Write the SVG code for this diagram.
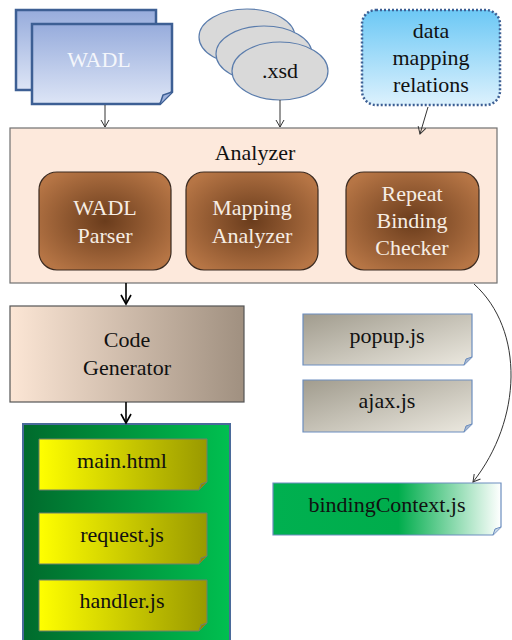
<svg xmlns="http://www.w3.org/2000/svg" width="512" height="640" viewBox="0 0 512 640">
<style>
text{font-family:"Liberation Serif","Tinos","Times New Roman","Times","DejaVu Serif","Noto Serif",serif;font-size:22px;text-anchor:middle}
.w{fill:#f6ede4}
.k{fill:#111}
.conn{fill:none;stroke:#333;stroke-width:1}
.connb{fill:none;stroke:#000;stroke-width:1.6}
</style>
<defs>
<linearGradient id="gWadl" x1="0" y1="0" x2="0" y2="1"><stop offset="0" stop-color="#97acdc"/><stop offset="1" stop-color="#dde5f6"/></linearGradient>
<linearGradient id="gData" x1="0" y1="0" x2="0" y2="1"><stop offset="0" stop-color="#6cc8f5"/><stop offset="1" stop-color="#dcf1fd"/></linearGradient>
<radialGradient id="gBrown" cx="0.5" cy="0.5" r="0.6"><stop offset="0" stop-color="#6a3c1c"/><stop offset="1" stop-color="#b67545"/></radialGradient>
<linearGradient id="gCode" x1="0" y1="0" x2="1" y2="0"><stop offset="0" stop-color="#fce6d5"/><stop offset="1" stop-color="#a09080"/></linearGradient>
<linearGradient id="gGreen" x1="0" y1="0" x2="1" y2="0"><stop offset="0" stop-color="#006a2c"/><stop offset="1" stop-color="#00c050"/></linearGradient>
<linearGradient id="gYel" x1="0" y1="0" x2="1" y2="0"><stop offset="0" stop-color="#ffff00"/><stop offset="1" stop-color="#999900"/></linearGradient>
<linearGradient id="gGrey" x1="0" y1="0" x2="1" y2="1"><stop offset="0" stop-color="#a19c8e"/><stop offset="1" stop-color="#ebe8df"/></linearGradient>
<linearGradient id="gBind" x1="0" y1="0" x2="1" y2="0"><stop offset="0" stop-color="#00b050"/><stop offset="0.55" stop-color="#00ad4c"/><stop offset="1" stop-color="#ffffff"/></linearGradient>
<marker id="ah" markerWidth="10" markerHeight="10" refX="8" refY="5" orient="auto" markerUnits="userSpaceOnUse"><path d="M1,1 L8,5 L1,9" fill="none" stroke="#333" stroke-width="1"/></marker>
<marker id="ahb" markerWidth="12" markerHeight="12" refX="10" refY="6" orient="auto" markerUnits="userSpaceOnUse"><path d="M1,1 L10,6 L1,11" fill="none" stroke="#000" stroke-width="1.6"/></marker>
</defs>

<g id="wadl">
<rect x="16" y="10" width="140" height="80" fill="url(#gWadl)" stroke="#3d5f94" stroke-width="2.5"/>
<path d="M32,24 H172 V92 L160,104 H32 Z" fill="url(#gWadl)" stroke="#3d5f94" stroke-width="2.5"/>
<path d="M160,104 L163,95 L172,92" fill="#9fb2dc" stroke="#3d5f94" stroke-width="1.5"/>
<text x="99" y="67" fill="#f4f6fb">WADL</text>
</g>

<g id="xsd">
<ellipse cx="247" cy="37" rx="48" ry="28" fill="#d9d9d9" stroke="#5a7cac" stroke-width="1.2"/>
<ellipse cx="264" cy="54" rx="48" ry="28" fill="#d9d9d9" stroke="#5a7cac" stroke-width="1.2"/>
<ellipse cx="280" cy="71" rx="48" ry="29" fill="#d9d9d9" stroke="#5a7cac" stroke-width="1.2"/>
<text x="280" y="78" class="k">.xsd</text>
</g>

<g id="data">
<rect x="362" y="10" width="138" height="95" rx="14" fill="url(#gData)" stroke="#3d5f94" stroke-width="2.5" stroke-dasharray="2,2"/>
<text x="431" y="38" class="k">data</text>
<text x="431" y="65" class="k">mapping</text>
<text x="431" y="92" class="k">relations</text>
</g>

<g id="analyzer">
<rect x="10" y="128" width="487" height="155" fill="#fde9dc" stroke="#707070" stroke-width="1.2"/>
<text x="255" y="160" class="k">Analyzer</text>
</g>
<g id="wadlParser">
<rect x="39" y="172" width="132" height="98" rx="18" fill="url(#gBrown)" stroke="#3a2a20" stroke-width="1.2"/>
<text x="105" y="215" class="w">WADL</text>
<text x="105" y="243" class="w">Parser</text>
</g>
<g id="mappingAnalyzer">
<rect x="186" y="172" width="132" height="98" rx="18" fill="url(#gBrown)" stroke="#3a2a20" stroke-width="1.2"/>
<text x="252" y="215" class="w">Mapping</text>
<text x="252" y="243" class="w">Analyzer</text>
</g>
<g id="repeatChecker">
<rect x="346" y="172" width="133" height="98" rx="18" fill="url(#gBrown)" stroke="#3a2a20" stroke-width="1.2"/>
<text x="412" y="201" class="w">Repeat</text>
<text x="412" y="228" class="w">Binding</text>
<text x="412" y="255" class="w">Checker</text>
</g>

<g id="codeGenerator">
<rect x="10" y="306" width="234" height="96" fill="url(#gCode)" stroke="#555" stroke-width="1.2"/>
<text x="127" y="347" class="k">Code</text>
<text x="127" y="375" class="k">Generator</text>
</g>

<g id="output">
<rect x="23" y="424" width="207" height="220" fill="url(#gGreen)" stroke="#4a6a9a" stroke-width="2"/>
</g>
<g id="mainHtml">
<path d="M39,439 H207 V482 L199,490 H39 Z" fill="url(#gYel)" stroke="#6f7f6f" stroke-width="1"/>
<path d="M199,490 L201,484 L207,482" fill="#8a8a00" stroke="#6f7f6f" stroke-width="1"/>
<text x="122" y="468" class="k">main.html</text>
</g>
<g id="requestJs">
<path d="M39,513 H207 V556 L199,564 H39 Z" fill="url(#gYel)" stroke="#6f7f6f" stroke-width="1"/>
<path d="M199,564 L201,558 L207,556" fill="#8a8a00" stroke="#6f7f6f" stroke-width="1"/>
<text x="122" y="542" class="k">request.js</text>
</g>
<g id="handlerJs">
<path d="M39,580 H207 V623 L199,631 H39 Z" fill="url(#gYel)" stroke="#6f7f6f" stroke-width="1"/>
<path d="M199,631 L201,625 L207,623" fill="#8a8a00" stroke="#6f7f6f" stroke-width="1"/>
<text x="122" y="608" class="k">handler.js</text>
</g>

<g id="popupJs">
<path d="M303,314 H472 V357 L464,365 H303 Z" fill="url(#gGrey)" stroke="#6c8ebf" stroke-width="1.2"/>
<path d="M464,365 L466,359 L472,357" fill="#a8b8d0" stroke="#6c8ebf" stroke-width="1"/>
<text x="387" y="343" class="k">popup.js</text>
</g>
<g id="ajaxJs">
<path d="M303,380 H472 V424 L464,432 H303 Z" fill="url(#gGrey)" stroke="#6c8ebf" stroke-width="1.2"/>
<path d="M464,432 L466,426 L472,424" fill="#a8b8d0" stroke="#6c8ebf" stroke-width="1"/>
<text x="387" y="408" class="k">ajax.js</text>
</g>
<g id="bindingContextJs">
<path d="M273,483 H501 V527 L493,535 H273 Z" fill="url(#gBind)" stroke="#6c8ebf" stroke-width="1.2"/>
<path d="M493,535 L495,529 L501,527" fill="#c8d8e8" stroke="#6c8ebf" stroke-width="1"/>
<text x="387" y="512" class="k">bindingContext.js</text>
</g>

<g id="connectors">
<path class="conn" d="M105,105 V127" marker-end="url(#ah)"/>
<path class="conn" d="M280,100 V127" marker-end="url(#ah)"/>
<path class="conn" d="M428,107 L420,134" marker-end="url(#ah)"/>
<path class="connb" d="M126,283 V304" marker-end="url(#ahb)"/>
<path class="connb" d="M126,402 V423" marker-end="url(#ahb)"/>
<path class="conn" d="M474,284 C525,330 522,420 473,482" marker-end="url(#ah)"/>
</g>
</svg>
